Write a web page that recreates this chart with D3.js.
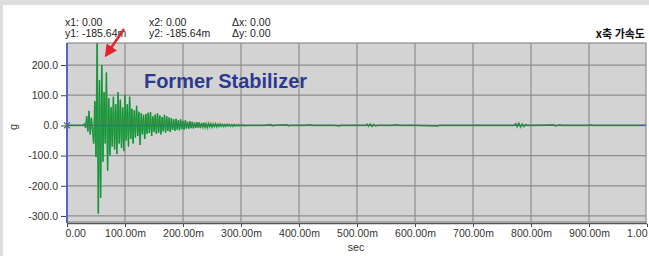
<!DOCTYPE html>
<html>
<head>
<meta charset="utf-8">
<script src="https://cdn.jsdelivr.net/npm/d3@7"></script>
<style>
  body { margin: 0; background: #dcdddf; }
  svg { display: block; }
</style>
</head>
<body>
<svg id="chart" width="649" height="256"></svg>
<script>
// cursor readout in the header
var readoutLeft = ["x1: 0.00", "y1: -185.64m"];
var readoutMid = ["x2: 0.00", "y2: -185.64m"];
var readoutRight = ["\u0394x: 0.00", "\u0394y: 0.00"];

var xTicks = [0, 0.1, 0.2, 0.3, 0.4, 0.5, 0.6, 0.7, 0.8, 0.9, 1.0];
var xTickLabels = ["0.00", "100.00m", "200.00m", "300.00m", "400.00m", "500.00m",
                   "600.00m", "700.00m", "800.00m", "900.00m", "1.00"];
var yTicks = [200, 100, 0, -100, -200, -300];
var yTickLabels = ["200.0", "100.0", "0.0", "-100.0", "-200.0", "-300.0"];

// burst: one sample every 2 ms starting at 30 ms (values in g)
var burstStart = 0.030;
var burstStep = 0.002;
var burst = [
  5, -8, 30, -20, 48, -30, 25, -15, -60, 80, -105,
  280, -292, 150, -240, 200, -120, 110, -60, 175, -150, 90, -100, 60, -70,
  95, -80, 70, -95, 110, -60, 85, -75, 60, -85, 100, -50, 70, -70, 95, -45,
  55, -60, 50, -40, 65, -35, 45, -65, 40, -30, 35, -45, 38, -28, 42, -25,
  44, -35, 30, -22, 36, -28, 40, -25, 33, -30, 28, -20, 35, -24, 30, -18,
  26, -22, 24, -15, 20, -18, 22, -14, 18, -16, 20, -12, 15, -14, 17, -10,
  12, -11, 14, -9, 12, -10, 9, -8, 11, -7, 10, -9, 8, -6, 9, -7, 6, -8,
  7, -5, 6, -6, 5, -4, 6, -5, 4, -4, 5, -3, 4, -4, 3, -3, 4, -2, 3, -3,
  2, -3, 3, -2, 2, -2, 3, -2, 2, -1, 2, -2, 1, -1, 0
];
// later small blips as [sec, g]
var tail = [
  [0.340, 0], [0.352, 3], [0.354, -2], [0.356, 0], [0.380, 2], [0.382, -2], [0.384, 0],
  [0.410, 0], [0.420, 2], [0.422, 0], [0.460, 0], [0.470, -2], [0.472, 0],
  [0.515, 0], [0.518, 4], [0.520, -3], [0.523, 5], [0.526, -4], [0.529, 3], [0.532, -2], [0.535, 0],
  [0.560, 0], [0.570, 2], [0.572, 0], [0.600, 0], [0.640, -2], [0.642, 0],
  [0.770, 0], [0.774, 6], [0.776, -5], [0.779, 8], [0.782, -6], [0.785, 5], [0.788, -4], [0.791, 3], [0.794, 0],
  [0.810, 0], [0.812, 2], [0.814, 0], [0.840, 2], [0.842, -2], [0.850, 2], [0.852, 0],
  [0.900, 0], [0.904, 2], [0.906, 0], [1.0, 0]
];

var signal = [[0, 0], [burstStart - 0.002, 0]];
burst.forEach(function(v, i) { signal.push([burstStart + i * burstStep, v]); });
tail.forEach(function(p) { signal.push(p); });

var svg = d3.select("#chart");

// white panel over the grey page
svg.append("rect").attr("x", 3).attr("y", 5).attr("width", 646).attr("height", 251).attr("fill", "#ffffff");

var plotL = 67, plotR = 646, plotT = 43, plotB = 222;
var x = d3.scaleLinear().domain([0, 1.0]).range([plotL, 647]);
var y = d3.scaleLinear().domain([-320, 273]).range([plotB, plotT]);

var defs = svg.append("defs");
defs.append("clipPath").attr("id", "plotclip")
  .append("rect").attr("x", plotL).attr("y", plotT).attr("width", plotR - plotL).attr("height", plotB - plotT);

svg.append("rect").attr("x", plotL).attr("y", plotT).attr("width", plotR - plotL).attr("height", plotB - plotT)
  .attr("fill", "#d3d3d3").attr("stroke", "#7a7a7a").attr("stroke-width", 1);

// grid
svg.append("g").selectAll("line").data(xTicks.slice(1, -1)).enter().append("line")
  .attr("x1", function(d) { return x(d); }).attr("x2", function(d) { return x(d); })
  .attr("y1", plotT).attr("y2", plotB)
  .attr("stroke", "#8e8e8e").attr("stroke-width", 1.2);
svg.append("g").selectAll("line").data(yTicks.filter(function(d) { return d != 0; })).enter().append("line")
  .attr("x1", plotL).attr("x2", plotR)
  .attr("y1", function(d) { return y(d); }).attr("y2", function(d) { return y(d); })
  .attr("stroke", "#8e8e8e").attr("stroke-width", 1.2);

// signal: light halo plus darker core, like the scope trace
var line = d3.line().x(function(d) { return x(d[0]); }).y(function(d) { return y(d[1]); });
svg.append("path").datum(signal).attr("clip-path", "url(#plotclip)")
  .attr("d", line).attr("fill", "none")
  .attr("stroke", "#43b45a").attr("stroke-width", 1.6);
svg.append("path").datum(signal).attr("clip-path", "url(#plotclip)")
  .attr("d", line).attr("fill", "none")
  .attr("stroke", "#14893a").attr("stroke-width", 0.8);

// zero cursor line
svg.append("line").attr("x1", plotL).attr("x2", plotR).attr("y1", y(0)).attr("y2", y(0))
  .attr("stroke", "#4a5cb4").attr("stroke-width", 1.3);
svg.append("path").attr("d", "M" + (plotL - 3) + "," + (y(0) - 3) + "l6,6m0,-6l-6,6")
  .attr("stroke", "#4a5cb4").attr("stroke-width", 1.2);

// axes frame
svg.append("line").attr("x1", plotL).attr("x2", plotL).attr("y1", plotT).attr("y2", plotB + 1)
  .attr("stroke", "#5566bb").attr("stroke-width", 2);
svg.append("line").attr("x1", plotL).attr("x2", plotR + 1).attr("y1", plotB + 1.5).attr("y2", plotB + 1.5)
  .attr("stroke", "#555").attr("stroke-width", 1.5);

var yAxis = d3.axisLeft(y).tickValues(yTicks)
  .tickFormat(function(d, i) { return yTickLabels[i]; }).tickSize(5).tickPadding(3);
var yg = svg.append("g").attr("transform", "translate(" + (plotL - 1) + ",0)").call(yAxis);
yg.select(".domain").remove();
yg.selectAll("line").attr("stroke", "#444");
yg.selectAll("text").attr("font-family", "Liberation Sans, Arial, sans-serif")
  .attr("font-size", 10.5).attr("fill", "#333");

var xAxis = d3.axisBottom(x).tickValues(xTicks)
  .tickFormat(function(d, i) { return xTickLabels[i]; }).tickSize(3).tickPadding(3);
var xg = svg.append("g").attr("transform", "translate(0," + (plotB + 2) + ")").call(xAxis);
xg.select(".domain").remove();
xg.selectAll("line").attr("stroke", "#444");
xg.selectAll("text").attr("font-family", "Liberation Sans, Arial, sans-serif")
  .attr("font-size", 10.5).attr("fill", "#333")
  .attr("text-anchor", function(d, i) { return i == 0 ? "start" : (i == xTicks.length - 1 ? "end" : "middle"); })
  .attr("dx", function(d, i) { return i == 0 ? -2 : 0; });

svg.append("text").attr("x", 356).attr("y", 251).attr("text-anchor", "middle")
  .attr("font-family", "Liberation Sans, Arial, sans-serif").attr("font-size", 10.5).attr("fill", "#333")
  .text("sec");
svg.append("text").attr("transform", "translate(17,127) rotate(-90)").attr("text-anchor", "middle")
  .attr("font-family", "Liberation Sans, Arial, sans-serif").attr("font-size", 11).attr("fill", "#333")
  .text("g");

// header readouts
var hdr = svg.append("g").attr("font-family", "Liberation Sans, Arial, sans-serif")
  .attr("font-size", 10.5).attr("fill", "#222");
[[65, readoutLeft], [149, readoutMid], [232, readoutRight]].forEach(function(c) {
  c[1].forEach(function(s, i) {
    hdr.append("text").attr("x", c[0]).attr("y", 26 + i * 11).text(s);
  });
});
svg.append("text").attr("x", 645).attr("y", 38).attr("text-anchor", "end")
  .attr("font-family", "Noto Sans CJK KR, sans-serif").attr("font-weight", "bold")
  .attr("font-size", 11).attr("fill", "#111").text("x축 가속도");

// annotation
svg.append("text").attr("x", 144).attr("y", 88)
  .attr("font-family", "Liberation Sans Narrow, Arial Narrow, Liberation Sans, sans-serif")
  .attr("font-weight", "bold").attr("font-size", 21).attr("fill", "#2b3a8f")
  .attr("textLength", 163).attr("lengthAdjust", "spacingAndGlyphs")
  .text("Former Stabilizer");

defs.append("marker").attr("id", "head").attr("viewBox", "0 0 10 10")
  .attr("refX", 4).attr("refY", 5).attr("markerWidth", 5).attr("markerHeight", 5).attr("orient", "auto")
  .append("path").attr("d", "M0,0L10,5L0,10z").attr("fill", "#e3242b");
svg.append("line").attr("x1", 124).attr("y1", 29).attr("x2", 109).attr("y2", 51)
  .attr("stroke", "#e3242b").attr("stroke-width", 2.5).attr("marker-end", "url(#head)");
</script>
</body>
</html>
